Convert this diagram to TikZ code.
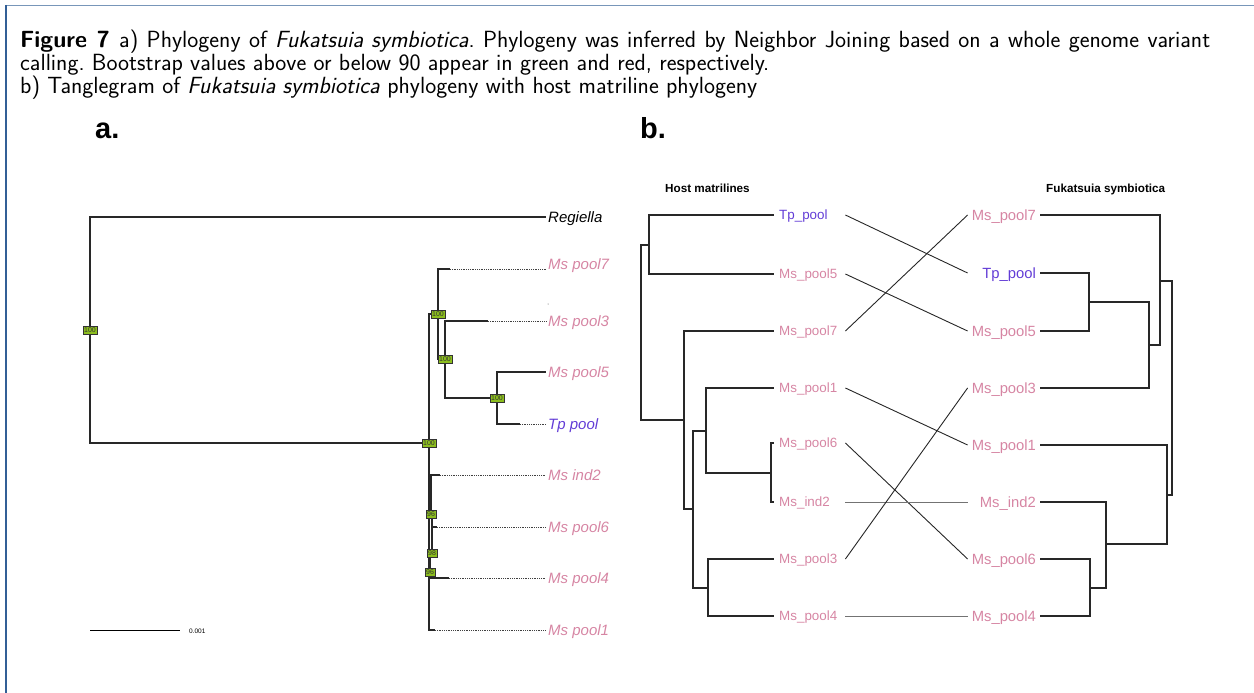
\documentclass[tikz,border=0pt]{standalone}
\usepackage{fontspec}
\newfontfamily\arial{Liberation Sans}
\definecolor{pinkl}{RGB}{214,133,163}
\definecolor{tpblue}{RGB}{98,60,214}
\definecolor{bootgreen}{RGB}{140,190,30}
\definecolor{frametop}{RGB}{120,150,185}
\definecolor{frameleft}{RGB}{50,95,150}
\definecolor{treecol}{RGB}{40,40,40}
\begin{document}
\begin{tikzpicture}[x=1pt,y=-1pt,
  captxt/.style={anchor=base west, inner sep=0pt, font=\sffamily\frenchspacing\fontsize{23.4}{24}\selectfont},
  plab/.style={anchor=base west, inner sep=0pt, font=\arial\bfseries\fontsize{29}{29}\selectfont},
  treeline/.style={line width=1.3pt, draw=treecol},
  extline/.style={line width=0.8pt, densely dotted, draw=black!75},
  boot/.style={draw=black!80, fill=bootgreen, line width=0.6pt, inner sep=0pt, minimum width=14pt, minimum height=8pt, font=\arial\fontsize{7}{7}\selectfont, text=black!80},
  bootn/.style={boot, minimum width=10pt},
  leafa/.style={anchor=west, inner xsep=2pt, inner ysep=0pt, text height=10.7pt, text depth=0pt, font=\arial\itshape\fontsize{15}{15}\selectfont, text=pinkl},
  btline/.style={line width=1.3pt, draw=treecol},
  tgline/.style={line width=0.9pt, draw=black!85},
  leafl/.style={anchor=west, inner xsep=5pt, inner ysep=0pt, text width=61pt, align=left, text height=9.6pt, text depth=0pt, font=\arial\fontsize{13.4}{13.4}\selectfont, text=pinkl},
  leafr/.style={anchor=east, inner xsep=4pt, inner ysep=0pt, text width=64pt, align=right, text height=10.6pt, text depth=0pt, font=\arial\fontsize{14.8}{14.8}\selectfont, text=pinkl},
  ttl/.style={anchor=base west, inner sep=0pt, font=\arial\bfseries\fontsize{11.7}{11.7}\selectfont}
]
\useasboundingbox (0,0) rectangle (1254,693);
% frame
\draw[frametop, line width=1.5pt] (6,5.5) -- (1254,5.5);
\draw[frameleft, line width=1.5pt] (6,5) -- (6,693);

% caption
\node[captxt] (cap1) at (20,48) {\makebox[1190pt][s]{\textbf{Figure 7}\hspace{0.4em}a) Phylogeny of \textit{Fukatsuia symbiotica}. Phylogeny was inferred by Neighbor Joining based on a whole genome variant}};
\node[captxt] (cap2) at (20,71) {calling. Bootstrap values above or below 90 appear in green and red, respectively.};
\node[captxt] (cap3) at (20,94) {b) Tanglegram of \textit{Fukatsuia symbiotica} phylogeny with host matriline phylogeny};

% panel labels
\node[plab] (pa) at (95,138) {a.};
\node[plab] (pb) at (640,138) {b.};

% ---------------- panel a ----------------
\node[leafa, text=black] (regiella) at (546,217) {Regiella};
\node[leafa] (ap7) at (546,264) {Ms pool7};
\node[leafa] (ap3) at (546,321) {Ms pool3};
\node[leafa] (ap5) at (546,372) {Ms pool5};
\node[leafa, text=tpblue] (atp) at (546,424) {Tp pool};
\node[leafa] (ai2) at (546,475) {Ms ind2};
\node[leafa] (ap6) at (546,527) {Ms pool6};
\node[leafa] (ap4) at (546,578) {Ms pool4};
\node[leafa] (ap1) at (546,630) {Ms pool1};

\coordinate (aR) at (90,330);
\coordinate (aA) at (429,443);
\coordinate (aB) at (438,314);
\coordinate (aC) at (445,359);
\coordinate (aD) at (497,398);
\coordinate (aE) at (431,514);
\coordinate (aF) at (432,553);
\coordinate (aG) at (430,572);
\coordinate (e7) at (450,269);
\coordinate (e3) at (488,321);
\coordinate (eT) at (520,424);
\coordinate (ei2) at (440,475);
\coordinate (e6) at (437,527);
\coordinate (e4) at (449,578);
\coordinate (e1) at (435,630);

\draw[treeline] (aR) |- (regiella.west);
\draw[treeline] (aR) |- (aA);
\draw[treeline] (aA) |- (aB);
\draw[treeline] (aB) |- (e7);
\draw[treeline] (aB) |- (aC);
\draw[treeline] (aC) |- (e3);
\draw[treeline] (aC) |- (aD);
\draw[treeline] (aD) |- (ap5.west);
\draw[treeline] (aD) |- (eT);
\draw[treeline] (aA) |- (e1);
\draw[treeline] (aG) |- (e4);
\draw[treeline] (aG) |- (aF);
\draw[treeline] (aF) |- (e6);
\draw[treeline] (aF) |- (aE);
\draw[treeline] (aE) |- (ei2);
\draw[extline] (e7) -- (e7 -| ap7.west);
\draw[extline] (e3) -- (ap3.west);
\draw[extline] (eT) -- (atp.west);
\draw[extline] (ei2) -- (ai2.west);
\draw[extline] (e6) -- (ap6.west);
\draw[extline] (e4) -- (ap4.west);
\draw[extline] (e1) -- (ap1.west);

\node[boot] (bR) at (aR) {100};
\node[boot] (bA) at (aA) {100};
\node[boot] (bB) at (aB) {100};
\node[boot] (bC) at (aC) {100};
\node[boot] (bD) at (aD) {100};
\node[bootn] (bE) at (aE) {96};
\node[bootn] (bF) at (aF) {98};
\node[bootn] (bG) at (aG) {96};

% scale bar
\coordinate (s1) at (90,630);
\coordinate (s2) at (180,630);
\draw[line width=1pt, draw=black] (s1) -- (s2);
\node[anchor=west, inner sep=0pt, font=\arial\fontsize{6.5}{6.5}\selectfont] (sl) at (189,631) {0.001};
\fill[black!70] (548,304) circle (0.5);

% ---------------- panel b ----------------
\node[ttl] (th) at (665,192) {Host matrilines};
\node[ttl] (tf) at (1046,192) {Fukatsuia symbiotica};

% left labels
\node[leafl, text=tpblue] (LTp) at (774,215) {Tp\_pool};
\node[leafl] (LM5) at (774,274) {Ms\_pool5};
\node[leafl] (LM7) at (774,331) {Ms\_pool7};
\node[leafl] (LM1) at (774,388) {Ms\_pool1};
\node[leafl] (LM6) at (774,443) {Ms\_pool6};
\node[leafl] (LI2) at (774,502) {Ms\_ind2};
\node[leafl] (LM3) at (774,559) {Ms\_pool3};
\node[leafl] (LM4) at (774,616) {Ms\_pool4};
% right labels
\node[leafr] (RM7) at (1040,215) {Ms\_pool7};
\node[leafr, text=tpblue] (RTp) at (1040,273) {Tp\_pool};
\node[leafr] (RM5) at (1040,331) {Ms\_pool5};
\node[leafr] (RM3) at (1040,388) {Ms\_pool3};
\node[leafr] (RM1) at (1040,445) {Ms\_pool1};
\node[leafr] (RI2) at (1040,502) {Ms\_ind2};
\node[leafr] (RM6) at (1040,559) {Ms\_pool6};
\node[leafr] (RM4) at (1040,616) {Ms\_pool4};

% left tree
\coordinate (bLr) at (641,332);
\coordinate (bLa) at (649,245);
\coordinate (bLb) at (684,420);
\coordinate (bLc) at (693,509);
\coordinate (bLd) at (706,431);
\coordinate (bLe) at (771,473);
\coordinate (bLf) at (708,588);
\draw[btline] (bLr) |- (bLa);
\draw[btline] (bLr) |- (bLb);
\draw[btline] (bLa) |- (LTp.west);
\draw[btline] (bLa) |- (LM5.west);
\draw[btline] (bLb) |- (LM7.west);
\draw[btline] (bLb) |- (bLc);
\draw[btline] (bLc) |- (bLd);
\draw[btline] (bLc) |- (bLf);
\draw[btline] (bLd) |- (LM1.west);
\draw[btline] (bLd) |- (bLe);
\draw[btline] (bLe) |- (LM6.west);
\draw[btline] (bLe) |- (LI2.west);
\draw[btline] (bLf) |- (LM3.west);
\draw[btline] (bLf) |- (LM4.west);

% right tree
\coordinate (bRa) at (1089,302);
\coordinate (bRb) at (1149,345);
\coordinate (bRc) at (1160,281);
\coordinate (bRr) at (1172,388);
\coordinate (bRd) at (1167,495);
\coordinate (bRe) at (1106,544);
\coordinate (bRf) at (1090,588);
\draw[btline] (bRr) |- (bRc);
\draw[btline] (bRr) |- (bRd);
\draw[btline] (bRc) |- (RM7.east);
\draw[btline] (bRc) |- (bRb);
\draw[btline] (bRb) |- (bRa);
\draw[btline] (bRb) |- (RM3.east);
\draw[btline] (bRa) |- (RTp.east);
\draw[btline] (bRa) |- (RM5.east);
\draw[btline] (bRd) |- (RM1.east);
\draw[btline] (bRd) |- (bRe);
\draw[btline] (bRe) |- (RI2.east);
\draw[btline] (bRe) |- (bRf);
\draw[btline] (bRf) |- (RM6.east);
\draw[btline] (bRf) |- (RM4.east);

% tanglegram connectors
\draw[tgline] (LTp.east) -- (RTp.west);
\draw[tgline] (LM5.east) -- (RM5.west);
\draw[tgline] (LM7.east) -- (RM7.west);
\draw[tgline] (LM1.east) -- (RM1.west);
\draw[tgline] (LM6.east) -- (RM6.west);
\draw[tgline, draw=black!55] (LI2.east) -- (RI2.west);
\draw[tgline] (LM3.east) -- (RM3.west);
\draw[tgline, draw=black!55] (LM4.east) -- (RM4.west);
\end{tikzpicture}
\end{document}
